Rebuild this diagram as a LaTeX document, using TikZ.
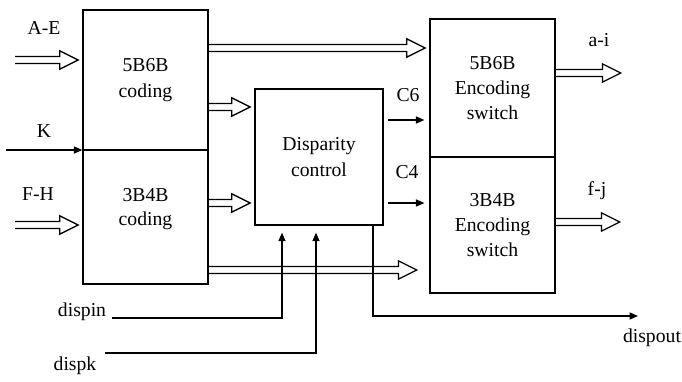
\documentclass[tikz,border=0pt]{standalone}
\usepackage{fontspec}
\setmainfont{Liberation Serif}
\usetikzlibrary{arrows.meta}

\tikzset{
  blk/.style={draw, line width=0.9pt, minimum width=3.125cm, inner sep=0pt, align=center,
    font=\fontsize{14}{18}\selectfont},
  lbl/.style={font=\fontsize{14}{17}\selectfont},
  sig/.style={line width=0.9pt, -{Triangle[length=6pt,width=5pt]}},
  bus/.style={line width=0.9pt, to path={
      ([yshift=2.5pt]\tikztostart) -- ([xshift=-#1-13pt,yshift=2.5pt]\tikztotarget)
      -- ([xshift=-#1-13pt,yshift=6.5pt]\tikztotarget) -- ([xshift=-#1]\tikztotarget)
      -- ([xshift=-#1-13pt,yshift=-6.5pt]\tikztotarget) -- ([xshift=-#1-13pt,yshift=-2.5pt]\tikztotarget)
      -- ([yshift=-2.5pt]\tikztostart)}},
  bus/.default=3pt
}

\begin{document}
\begin{tikzpicture}[x=0.025cm, y=-0.025cm]
  \useasboundingbox (0,0) rectangle (682,381);

  % blocks
  \node[blk, minimum height=3.5cm] (c56) at (145.5,80) {5B6B\\coding};
  \node[blk, minimum height=3.35cm,
    label={[lbl, align=center, yshift=0.2cm]center:3B4B\\coding}] (c34) at (145.5,217) {};
  \node[blk, minimum width=3.2cm, minimum height=3.4cm] (dc) at (319,157) {Disparity\\control};
  \node[blk, minimum height=3.45cm] (s56) at (492.5,88) {5B6B\\Encoding\\switch};
  \node[blk, minimum height=3.4cm] (s34) at (492.5,225) {3B4B\\Encoding\\switch};

  % labels
  \node[lbl] (lAE) at (44,28) {A-E};
  \node[lbl] (lK) at (44,131) {K};
  \node[lbl] (lFH) at (38,194) {F-H};
  \node[lbl] (lC6) at (408,95) {C6};
  \node[lbl] (lC4) at (407,172) {C4};
  \node[lbl] (lai) at (599,40) {a-i};
  \node[lbl] (lfj) at (597,191) {f-j};
  \node[lbl] (ldin) at (82,312) {dispin};
  \node[lbl] (ldk) at (75,366) {dispk};
  \node[lbl] (ldout) at (652,338) {dispout};

  % free ends
  \coordinate (inAE) at (15,60);
  \coordinate (inFH) at (15,225);
  \coordinate (inK) at (6,150);
  \coordinate (inDin) at (112,318);
  \coordinate (inDk) at (105,353);
  \coordinate (outai) at (625,73);
  \coordinate (outfj) at (624,222);
  \coordinate (outD) at (638,316);

  % buses
  \draw[bus] (inAE) to (c56.west |- inAE);
  \draw[bus] (inFH) to (c34.west |- inFH);
  \draw[bus] (c56.east |- 0,48) to (s56.west |- 0,48);
  \draw[bus] (c56.east |- 0,107) to (dc.west |- 0,107);
  \draw[bus] (c34.east |- 0,203) to (dc.west |- 0,203);
  \draw[bus=9pt] (c34.east |- 0,270) to (s34.west |- 0,270);
  \draw[bus] (s56.east |- outai) to (outai);
  \draw[bus] (s34.east |- outfj) to (outfj);

  % signals
  \draw[sig] (inK) -- (inK -| c56.west);
  \draw[sig, shorten <=3pt, shorten >=3.5pt] (dc.east |- 0,120) -- (s56.west |- 0,120);
  \draw[sig, shorten <=3pt, shorten >=3.5pt] (dc.east |- 0,203) -- (s34.west |- 0,203);
  \draw[sig, shorten >=5pt] (inDin) -| (dc.south -| 282,0);
  \draw[sig, shorten >=5pt] (inDk) -| (dc.south -| 316,0);
  \draw[sig] (dc.south -| 373,0) |- (outD);
\end{tikzpicture}
\end{document}
